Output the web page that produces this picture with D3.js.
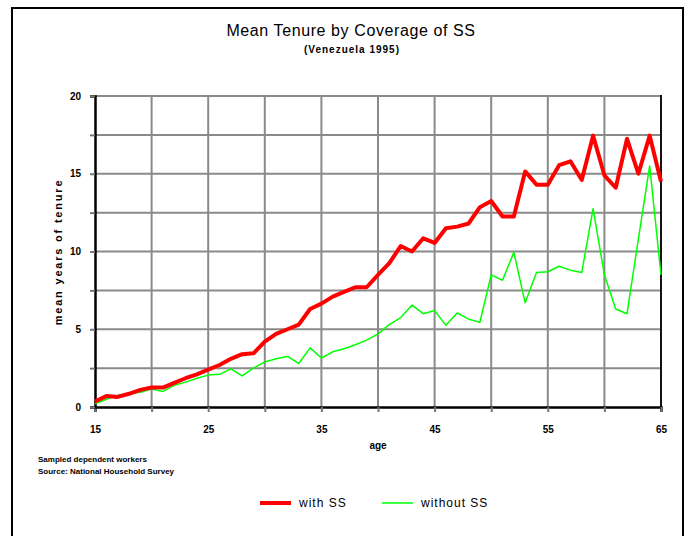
<!DOCTYPE html>
<html>
<head>
<meta charset="utf-8">
<script src="https://cdn.jsdelivr.net/npm/d3@7"></script>
<style>
  body { margin: 0; background: #fff; }
  svg { display: block; font-family: "Liberation Sans", Arial, sans-serif; }
</style>
</head>
<body>
<div class="chart"></div>
<script>
// ages 15..65, one value per year
const ages = d3.range(15, 66);
const withSS = [0.35, 0.7, 0.65, 0.85, 1.1, 1.25, 1.25, 1.55, 1.85, 2.1,
  2.4, 2.7, 3.1, 3.4, 3.45, 4.2, 4.7, 5.0, 5.3, 6.3,
  6.65, 7.1, 7.4, 7.7, 7.7, 8.5, 9.25, 10.35, 10.0, 10.85,
  10.55, 11.5, 11.6, 11.8, 12.85, 13.25, 12.25, 12.25, 15.15, 14.3,
  14.3, 15.55, 15.8, 14.6, 17.45, 14.9, 14.1, 17.25, 15.0, 17.45, 14.5];
const withoutSS = [0.2, 0.5, 0.75, 0.85, 0.95, 1.15, 1.0, 1.4, 1.6, 1.85,
  2.05, 2.1, 2.45, 2.0, 2.5, 2.9, 3.1, 3.25, 2.8, 3.8,
  3.15, 3.55, 3.75, 4.0, 4.3, 4.7, 5.3, 5.75, 6.55, 6.0,
  6.2, 5.25, 6.05, 5.65, 5.45, 8.5, 8.15, 9.95, 6.7, 8.65,
  8.7, 9.05, 8.8, 8.65, 12.75, 8.5, 6.3, 6.0, 10.8, 15.5, 8.5];
const xTickLabels = [15, 25, 35, 45, 55, 65];
const yTickLabels = [0, 5, 10, 15, 20];
const seriesNames = ["with SS", "without SS"];

const W = 689, H = 536;
const svg = d3.select(".chart").append("svg")
    .attr("width", W)
    .attr("height", H);

// outer frame
svg.append("rect")
    .attr("x", 12).attr("y", 8)
    .attr("width", 671).attr("height", 545)
    .attr("fill", "none")
    .attr("stroke", "#000")
    .attr("stroke-width", 2);

const pLeft = 95, pRight = 661, pTop = 96, pBottom = 407;
const xScale = d3.scaleLinear().domain([15, 65]).range([pLeft, pRight]);
const yScale = d3.scaleLinear().domain([0, 20]).range([pBottom, pTop]);

// grid
const g = svg.append("g");
g.selectAll(".vgrid")
    .data(d3.range(20, 65, 5))
    .enter().append("line")
    .attr("x1", d => xScale(d)).attr("x2", d => xScale(d))
    .attr("y1", pTop).attr("y2", pBottom)
    .attr("stroke", "#8a8a8a").attr("stroke-width", 2);
g.selectAll(".hgrid")
    .data(d3.range(2.5, 20.1, 2.5))
    .enter().append("line")
    .attr("x1", pLeft).attr("x2", pRight)
    .attr("y1", d => yScale(d)).attr("y2", d => yScale(d))
    .attr("stroke", "#8a8a8a").attr("stroke-width", 2);

// right border
g.append("line")
    .attr("x1", pRight).attr("x2", pRight)
    .attr("y1", pTop - 1).attr("y2", pBottom)
    .attr("stroke", "#111").attr("stroke-width", 2);

// axes
const xAxis = d3.axisBottom(xScale)
    .tickValues(d3.range(15, 66, 5))
    .tickSize(5)
    .tickFormat(d => xTickLabels.includes(d) ? d : "");
const yAxis = d3.axisLeft(yScale)
    .tickValues(d3.range(0, 20.1, 2.5))
    .tickSize(5)
    .tickFormat(d => yTickLabels.includes(d) ? d : "");

const gx = svg.append("g")
    .attr("transform", "translate(0," + pBottom + ")")
    .call(xAxis);
const gy = svg.append("g")
    .attr("transform", "translate(" + pLeft + ",0)")
    .call(yAxis);

[gx, gy].forEach(a => {
    a.select(".domain").attr("stroke", "#000").attr("stroke-width", 2.5);
    a.selectAll(".tick line").attr("stroke", "#777").attr("stroke-width", 2);
    a.selectAll("text")
        .style("font-size", "10px")
        .style("font-weight", "bold")
        .style("font-family", "'Liberation Sans', Arial, sans-serif")
        .attr("fill", "#000");
});
gx.selectAll("text").attr("dy", "1.75em");
gy.selectAll("text").attr("x", -14);

// lines
const line = d3.line()
    .x((d, i) => xScale(ages[i]))
    .y(d => yScale(d));

svg.append("path")
    .datum(withoutSS)
    .attr("d", line)
    .attr("fill", "none")
    .attr("stroke", "#00ff00")
    .attr("stroke-width", 1.5)
    .attr("stroke-linejoin", "round");

svg.append("path")
    .datum(withSS)
    .attr("d", line)
    .attr("fill", "none")
    .attr("stroke", "#ff0000")
    .attr("stroke-width", 4)
    .attr("stroke-linejoin", "round");

// titles
svg.append("text")
    .attr("x", 351).attr("y", 36)
    .attr("text-anchor", "middle")
    .style("font-size", "16px")
    .style("letter-spacing", "0.6px")
    .text("Mean Tenure by Coverage of SS");
svg.append("text")
    .attr("x", 352).attr("y", 53)
    .attr("text-anchor", "middle")
    .style("font-size", "10px")
    .style("font-weight", "bold")
    .style("letter-spacing", "1px")
    .text("(Venezuela 1995)");

// axis titles
svg.append("text")
    .attr("x", 378).attr("y", 449)
    .attr("text-anchor", "middle")
    .style("font-size", "10px")
    .style("font-weight", "bold")
    .text("age");
svg.append("text")
    .attr("transform", "translate(62,252)rotate(-90)")
    .attr("text-anchor", "middle")
    .style("font-size", "11px")
    .style("font-weight", "bold")
    .style("letter-spacing", "1.8px")
    .text("mean years of tenure");

// notes
svg.append("text")
    .attr("x", 38).attr("y", 462)
    .style("font-size", "8px")
    .style("font-weight", "bold")
    .text("Sampled dependent workers");
svg.append("text")
    .attr("x", 38).attr("y", 474)
    .style("font-size", "8px")
    .style("font-weight", "bold")
    .text("Source: National Household Survey");

// legend
const legendX = [260, 382];
const legendColors = ["#ff0000", "#00ff00"];
const legendWidths = [4, 1.5];
const lg = svg.append("g").selectAll("g")
    .data(seriesNames)
    .enter().append("g")
    .attr("transform", (d, i) => "translate(" + legendX[i] + ",503)");
lg.append("line")
    .attr("x1", 0).attr("x2", 31)
    .attr("stroke", (d, i) => legendColors[i])
    .attr("stroke-width", (d, i) => legendWidths[i]);
lg.append("text")
    .attr("x", 39).attr("y", 4)
    .style("font-size", "12px")
    .style("letter-spacing", "1px")
    .text(d => d);
</script>
</body>
</html>
